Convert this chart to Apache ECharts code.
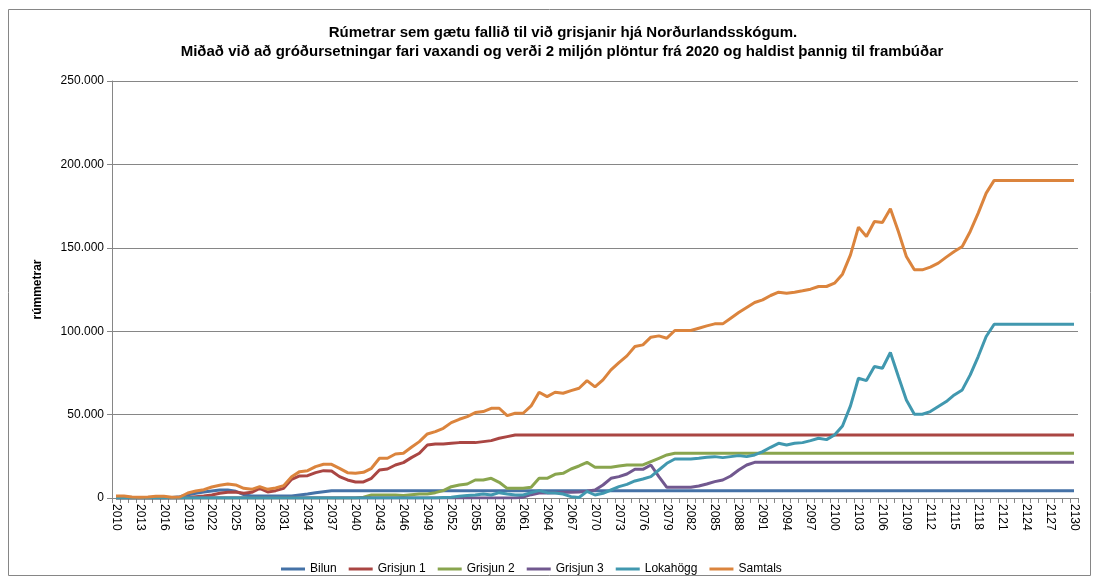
<!DOCTYPE html>
<html>
<head>
<meta charset="utf-8">
<script src="https://cdn.jsdelivr.net/npm/echarts@6/dist/echarts.min.js"></script>
<style>
html,body{margin:0;padding:0;background:#fff;}
#chart{width:1099px;height:580px;}
</style>
</head>
<body>
<div id="chart"></div>
<script>
const titleLine1 = 'Rúmetrar sem gætu fallið til við grisjanir hjá Norðurlandsskógum.';
const titleLine2 = 'Miðað við að gróðursetningar fari vaxandi og verði 2 miljón plöntur frá 2020 og haldist þannig til frambúðar';
const yAxisTitle = 'rúmmetrar';
const seriesNames = ['Bilun', 'Grisjun 1', 'Grisjun 2', 'Grisjun 3', 'Lokahögg', 'Samtals'];
const seriesColors = ['#4572A7', '#AA4643', '#89A54E', '#71588F', '#4198AF', '#DB843D'];

const years = [
  '2010','2011','2012','2013','2014','2015','2016','2017','2018','2019',
  '2020','2021','2022','2023','2024','2025','2026','2027','2028','2029',
  '2030','2031','2032','2033','2034','2035','2036','2037','2038','2039',
  '2040','2041','2042','2043','2044','2045','2046','2047','2048','2049',
  '2050','2051','2052','2053','2054','2055','2056','2057','2058','2059',
  '2060','2061','2062','2063','2064','2065','2066','2067','2068','2069',
  '2070','2071','2072','2073','2074','2075','2076','2077','2078','2079',
  '2080','2081','2082','2083','2084','2085','2086','2087','2088','2089',
  '2090','2091','2092','2093','2094','2095','2096','2097','2098','2099',
  '2100','2101','2102','2103','2104','2105','2106','2107','2108','2109',
  '2110','2111','2112','2113','2114','2115','2116','2117','2118','2119',
  '2120','2121','2122','2123','2124','2125','2126','2127','2128','2129',
  '2130'
];

const bilun = [
  0,0,0,0,0,0,0,300,800,2000,
  2800,3600,4200,4800,4800,4000,2000,1200,1200,1200,
  1200,1200,1200,1800,2400,3200,3800,4400,4400,4400,
  4400,4400,4400,4400,4400,4400,4400,4400,4400,4400,
  4400,4400,4400,4400,4400,4400,4400,4400,4400,4400,
  4400,4400,4400,4400,4400,4400,4400,4400,4400,4400,
  4400,4400,4400,4400,4400,4400,4400,4400,4400,4400,
  4400,4400,4400,4400,4400,4400,4400,4400,4400,4400,
  4400,4400,4400,4400,4400,4400,4400,4400,4400,4400,
  4400,4400,4400,4400,4400,4400,4400,4400,4400,4400,
  4400,4400,4400,4400,4400,4400,4400,4400,4400,4400,
  4400,4400,4400,4400,4400,4400,4400,4400,4400,4400,
  4400
];

const grisjun1 = [
  0,0,0,0,0,0,0,0,0,300,
  800,1200,1800,2800,3400,3600,2800,3400,5800,3600,
  4400,5800,11200,13200,13400,15200,16400,16200,12800,10800,
  9600,9600,11800,16800,17400,19800,21200,24200,26800,31800,
  32400,32400,32800,33200,33200,33200,33800,34400,35800,36800,
  37800,37800,37800,37800,37800,37800,37800,37800,37800,37800,
  37800,37800,37800,37800,37800,37800,37800,37800,37800,37800,
  37800,37800,37800,37800,37800,37800,37800,37800,37800,37800,
  37800,37800,37800,37800,37800,37800,37800,37800,37800,37800,
  37800,37800,37800,37800,37800,37800,37800,37800,37800,37800,
  37800,37800,37800,37800,37800,37800,37800,37800,37800,37800,
  37800,37800,37800,37800,37800,37800,37800,37800,37800,37800,
  37800
];

const grisjun2 = [
  0,0,0,0,0,0,0,0,0,0,
  0,0,0,0,0,0,0,0,0,0,
  0,0,0,0,0,0,0,0,0,0,
  0,500,1800,1800,1800,1800,1500,2000,2400,2400,
  3200,4400,6800,7800,8400,10800,10800,11800,9400,5800,
  5800,5800,6400,11800,11800,14200,14800,17400,19200,21400,
  18400,18400,18400,19200,19800,19800,19800,21800,23800,25800,
  26800,26800,26800,26800,26800,26800,26800,26800,26800,26800,
  26800,26800,26800,26800,26800,26800,26800,26800,26800,26800,
  26800,26800,26800,26800,26800,26800,26800,26800,26800,26800,
  26800,26800,26800,26800,26800,26800,26800,26800,26800,26800,
  26800,26800,26800,26800,26800,26800,26800,26800,26800,26800,
  26800
];

const grisjun3 = [
  0,0,0,0,0,0,0,0,0,0,
  0,0,0,0,0,0,0,0,0,0,
  0,0,0,0,0,0,0,0,0,0,
  0,0,0,0,0,0,0,0,0,0,
  0,0,0,0,0,0,0,0,0,0,
  0,500,2000,3000,3000,3200,3400,3400,3600,4000,
  4800,7800,11800,12800,14400,17200,17200,19800,12800,6400,
  6400,6400,6400,7200,8400,9800,10800,13200,16800,19800,
  21400,21400,21400,21400,21400,21400,21400,21400,21400,21400,
  21400,21400,21400,21400,21400,21400,21400,21400,21400,21400,
  21400,21400,21400,21400,21400,21400,21400,21400,21400,21400,
  21400,21400,21400,21400,21400,21400,21400,21400,21400,21400,
  21400
];

const lokahogg = [
  0,0,0,0,0,0,0,0,0,0,
  0,0,0,0,0,0,0,0,0,0,
  0,0,0,0,0,0,0,0,0,0,
  0,0,0,0,0,0,0,0,0,0,
  0,300,500,1000,1500,1800,2400,1800,3200,2400,
  1800,1800,3200,4400,3200,3000,2400,800,300,4000,
  1800,2800,4800,6800,8200,10200,11400,12800,16800,20800,
  23400,23400,23400,23800,24400,24800,24200,24800,25400,24800,
  25800,27800,30400,32800,31800,32800,33200,34400,35800,35000,
  37800,43200,55200,71800,70400,78800,77800,87200,72800,58800,
  50200,50200,51800,54800,57800,61800,64800,73800,84800,96800,
  104200,104200,104200,104200,104200,104200,104200,104200,104200,104200,
  104200
];

const samtals = [
  1200,1200,600,500,600,1000,1000,400,600,3000,
  4200,5000,6600,7600,8400,7800,5800,5200,6800,5200,
  6000,7400,12800,15800,16400,18800,20200,20200,17800,15200,
  14800,15400,17800,23800,23800,26400,26800,30400,33800,38400,
  39800,41800,45200,47200,48800,51200,51800,53800,53800,49400,
  50800,50800,55200,63400,60800,63400,62800,64400,65800,70400,
  66600,70800,76800,81200,85200,90800,91800,96400,97200,95800,
  100400,100400,100400,101800,103200,104400,104400,107800,111200,114200,
  117200,118800,121400,123400,122800,123400,124200,125200,126800,126800,
  128800,134200,145800,162400,156800,165800,165200,173400,159800,144800,
  136800,136800,138400,140800,144400,147800,150800,159800,170800,182800,
  190400,190400,190400,190400,190400,190400,190400,190400,190400,190400,
  190400
];

const seriesData = [bilun, grisjun1, grisjun2, grisjun3, lokahogg, samtals];

function fmt(v) {
  return String(v).replace(/\B(?=(\d{3})+(?!\d))/g, '.');
}

const chart = echarts.init(document.getElementById('chart'), null, {renderer: 'canvas'});
const FONT = '"Liberation Sans", "DejaVu Sans", sans-serif';

chart.setOption({
  animation: false,
  backgroundColor: '#ffffff',
  textStyle: {fontFamily: FONT},
  graphic: [
    {type: 'rect', silent: true, z: -1,
     shape: {x: 8.5, y: 9.5, width: 1082, height: 566},
     style: {fill: 'none', stroke: '#868686', lineWidth: 1}},
    {type: 'text', x: 563, y: 25,
     style: {text: titleLine1, font: 'bold 15px ' + FONT, fill: '#000', textAlign: 'center'}},
    {type: 'text', x: 562, y: 44,
     style: {text: titleLine2, font: 'bold 15px ' + FONT, fill: '#000', textAlign: 'center'}}
  ],
  grid: {left: 112, right: 21, top: 81, bottom: 82, containLabel: false},
  legend: {
    data: seriesNames,
    left: 276, top: 558,
    itemWidth: 24, itemHeight: 3, itemGap: 12,
    icon: 'rect',
    textStyle: {fontSize: 12, color: '#000', fontFamily: FONT}
  },
  xAxis: {
    type: 'category',
    data: years,
    boundaryGap: true,
    axisLine: {lineStyle: {color: '#868686', width: 1}},
    axisTick: {show: true, interval: 0, length: 5, lineStyle: {color: '#868686'}},
    axisLabel: {interval: 2, rotate: -90, fontSize: 12, color: '#000', margin: 6, fontFamily: FONT},
    splitLine: {show: false}
  },
  yAxis: {
    type: 'value',
    min: 0, max: 250000, interval: 50000,
    name: yAxisTitle,
    nameLocation: 'middle',
    nameRotate: 90,
    nameGap: 68,
    nameTextStyle: {fontWeight: 'bold', fontSize: 12, color: '#000', fontFamily: FONT},
    axisLine: {show: true, lineStyle: {color: '#868686', width: 1}},
    axisTick: {show: true, length: 5, lineStyle: {color: '#868686'}},
    axisLabel: {formatter: fmt, fontSize: 12, color: '#000', margin: 8, fontFamily: FONT},
    splitLine: {show: true, lineStyle: {color: '#868686', width: 1}}
  },
  series: seriesNames.map((n, k) => ({
    name: n,
    type: 'line',
    data: seriesData[k],
    symbol: 'none',
    smooth: false,
    color: seriesColors[k],
    lineStyle: {width: 3, color: seriesColors[k]},
    emphasis: {disabled: true}
  }))
});
</script>
</body>
</html>
